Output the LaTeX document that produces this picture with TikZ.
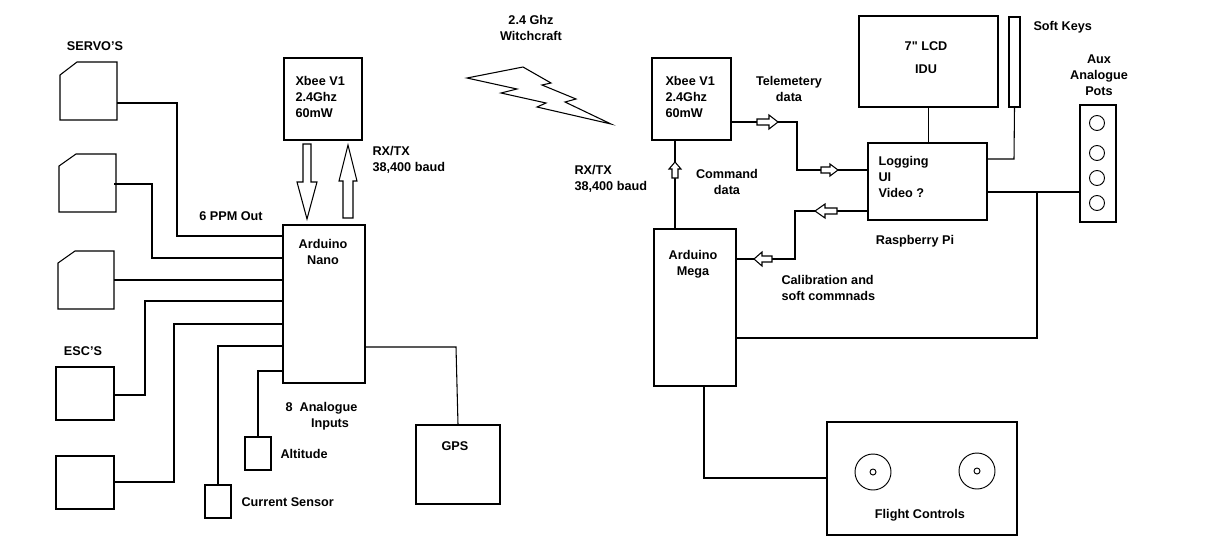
\documentclass[tikz,border=0pt]{standalone}
\usepackage{fontspec}
\setmainfont{Liberation Sans}
\usetikzlibrary{fit}
\begin{document}
\begin{tikzpicture}[x=0.75pt,y=-0.75pt,line width=0.8pt,
  box/.style={draw,inner sep=0pt,line width=0.8pt},
  lbl/.style={font=\fontsize{9.5}{12}\selectfont\bfseries,inner sep=0pt,align=center},
  lbll/.style={lbl,align=left},
  blk/.style={draw,fill=white,line width=0.8pt}]
\fill[white] (0,0) rectangle (1214,558);
\useasboundingbox (0,0) rectangle (1214,558);
% servos
\draw (60,75)--(77,62)--(117,62)--(117,120)--(60,120)--cycle;
\draw (59,166)--(76,154)--(116,154)--(116,212)--(59,212)--cycle;
\draw (58,263)--(75,251)--(114,251)--(114,309)--(58,309)--cycle;
\coordinate (s1) at (117,103); \coordinate (s2) at (114,184); \coordinate (s3) at (114,280);
\node[box,fit={(56,367)(114,420)}] (e1) {};
\node[box,fit={(56,456)(114,509)}] (e2) {};
\node[box,fit={(284,58)(362,140)}] (xl) {};
\node[box,fit={(283,225)(365,383)}] (nano) {};
\node[box,fit={(205,485)(231,518)}] (cur) {};
\node[box,fit={(245,437)(271,470)}] (alt) {};
\node[box,fit={(416,425)(500,504)}] (gps) {};
\draw (s1)--(177,103)--(177,236)--(nano.west|-0,236);
\draw (s2)--(152,184)--(152,258)--(nano.west|-0,258);
\draw (s3)--(nano.west|-0,280);
\draw (e1.east|-0,395)--(145,395)--(145,301)--(nano.west|-0,301);
\draw (e2.east|-0,482)--(174,482)--(174,324)--(nano.west|-0,324);
\draw (cur.north)--(218,346)--(nano.west|-0,346);
\draw (alt.north)--(258,371)--(nano.west|-0,371);
\draw (nano.east|-0,347)--(456,347)--(gps.north);
% left block arrows
\draw[blk] (303,144)--(311,144)--(311,182)--(317,182)--(307,219)--(297,182)--(303,182)--cycle;
\draw[blk] (343,218)--(353,218)--(353,181)--(357,181)--(348,145)--(339,181)--(343,181)--cycle;
% left labels
\node[lbl] at (95,46) {SERVO'S};
\node[lbl] at (231,216) {6 PPM Out};
\node[lbll,anchor=west] at (372,160) {RX/TX\\38,400 baud};
\node[lbl] at (83,351) {ESC'S};
\node[lbl,anchor=west] at (285,408) {8\ \ Analogue};
\node[lbl] at (330,424) {Inputs};
\node[lbl,anchor=west] at (280,454) {Altitude};
\node[lbl,anchor=west] at (241,502) {Current Sensor};
\node[lbl] at (455,446) {GPS};
\node[lbl] at (323,252) {Arduino\\Nano};
\node[lbll,anchor=west] at (295,97) {Xbee V1\\2.4Ghz\\60mW};
% lightning
\draw[line width=0.8pt] (467,78)--(523,67)--(551,83)--(542,85)--(576,99)--(565,102)--(611,124)--(537,107)--(546,103)--(501,93)--(517,89)--cycle;
\node[lbl] at (531,28) {2.4 Ghz\\Witchcraft};
% right side
\node[box,fit={(652,58)(731,140)}] (xr) {};
\node[lbll,anchor=west] at (665,97) {Xbee V1\\2.4Ghz\\60mW};
\node[box,fit={(654,229)(736,386)}] (mega) {};
\node[lbl] at (693,264) {Arduino\\Mega};
\node[box,fit={(868,143)(987,220)}] (pi) {};
\node[lbll,anchor=west] at (878,177) {Logging\\UI\\Video ?};
\node[box,fit={(859,16)(998,107)}] (lcd) {};
\node[lbl] at (926,46) {7\textquotedbl\ LCD};
\node[lbl] at (926,69) {IDU};
\node[box,fit={(1009,17)(1020,107)}] (sk) {};
\node[lbl,anchor=west] at (1033,27) {Soft Keys};
\node[box,fit={(1080,105)(1116,222)}] (pots) {};
\foreach \y in {123,153,178,203} \draw[line width=0.7pt] (1097,\y) circle[radius=7.5];
\node[lbl] at (1099,75) {Aux\\Analogue\\Pots};
\node[box,fit={(827,422)(1017,535)}] (fc) {};
\draw[line width=0.7pt] (873,472) circle[radius=18] (873,472) circle[radius=3];
\draw[line width=0.7pt] (977,471) circle[radius=18] (977,471) circle[radius=3];
\node[lbl] at (920,515) {Flight Controls};
\node[lbl] at (915,241) {Raspberry Pi};
\node[lbll,anchor=west] at (781,288) {Calibration and\\soft commnads};
\node[lbll,anchor=west] at (574,179) {RX/TX\\38,400 baud};
\node[lbl] at (727,182) {Command\\data};
\node[lbl] at (789,89) {Telemetery\\data};
% connectors
\draw (xr.south-|675,0)--(mega.north-|675,0);
\draw (xr.east|-0,122)--(797,122)--(797,170)--(pi.west|-0,170);
\draw (pi.west|-0,211)--(795,211)--(795,259)--(mega.east|-0,259);
\draw (lcd.south)--(pi.north-|lcd.south);
\draw (sk.south)--(1014,159)--(pi.east|-0,159);
\draw (pi.east|-0,192)--(pots.west|-0,192);
\draw (1037,192)--(1037,338)--(mega.east|-0,338);
\draw (mega.south-|704,0)--(704,478)--(fc.west|-0,478);
% small block arrows
\draw[blk] (672,178)--(678,178)--(678,169)--(681,169)--(675,162)--(669,169)--(672,169)--cycle;
\draw[blk] (757,119)--(769,119)--(769,115)--(778,122)--(769,129)--(769,125)--(757,125)--cycle;
\draw[blk] (821,167)--(830,167)--(830,164)--(838,170)--(830,176)--(830,173)--(821,173)--cycle;
\draw[blk] (837,208)--(825,208)--(825,204)--(815,211)--(825,218)--(825,214)--(837,214)--cycle;
\draw[blk] (772,256)--(762,256)--(762,252)--(754,259)--(762,266)--(762,262)--(772,262)--cycle;
\end{tikzpicture}
\end{document}
